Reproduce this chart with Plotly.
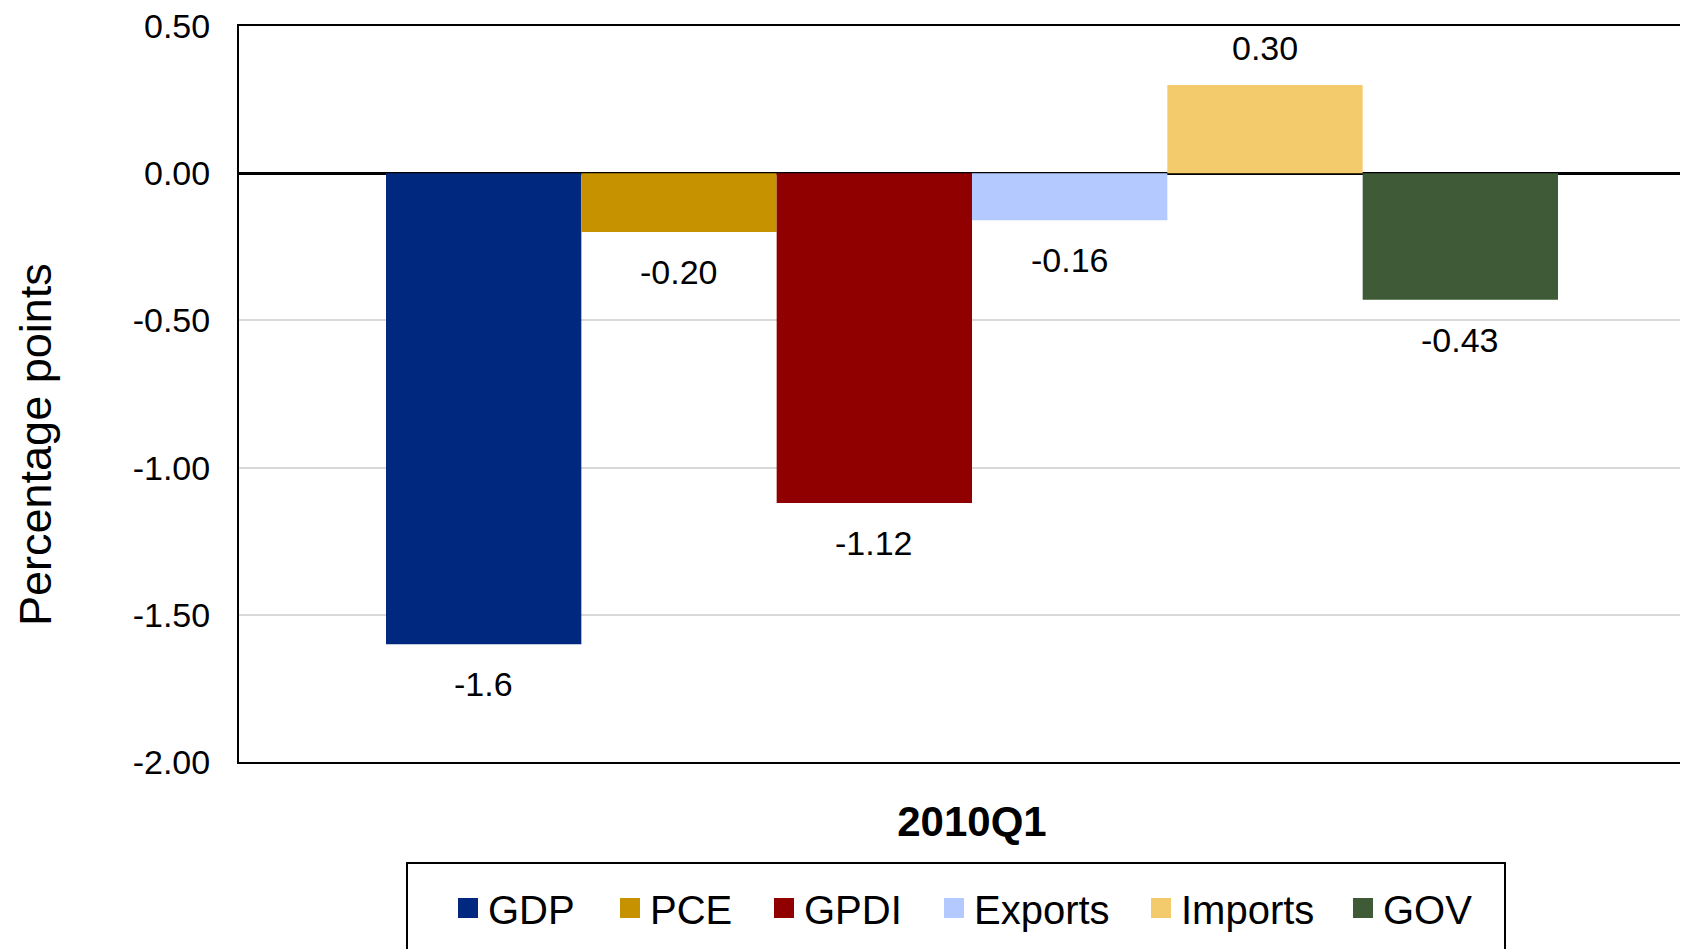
import plotly.graph_objects as go

# ---------------- data ----------------
quarter = "2010Q1"
series = ["GDP", "PCE", "GPDI", "Exports", "Imports", "GOV"]
values = [-1.6, -0.20, -1.12, -0.16, 0.30, -0.43]
label_decimals = [1, 2, 2, 2, 2, 2]
y_ticks = [0.5, 0.0, -0.5, -1.0, -1.5, -2.0]
y_tick_labels = ["0.50", "0.00", "-0.50", "-1.00", "-1.50", "-2.00"]

# ---------------- style ----------------
colors = ["#00287F", "#C79200", "#900000", "#B3C9FF", "#F4CB6C", "#3E5A36"]
legend_widths = [117, 109, 125, 162, 157, 90]

# the page body adds an 8px margin; work in page pixels and shift by it
OFF = 8
W, H = 1688 - OFF, 949 - OFF
PL, PR, PT, PB = 239 - OFF, 1688 - OFF, 26 - OFF, 762 - OFF   # plot area in figure pixels
PW, PH = PR - PL, PB - PT
GROUP_CENTER_PX = 972 - OFF
GROUP_WIDTH_PX = 1172

FONT = "Liberation Sans, Arial, sans-serif"

x_lo = -(GROUP_CENTER_PX - PL) / PW
x_range = [x_lo, x_lo + 1.0]
bargap = 1 - GROUP_WIDTH_PX / PW
bar_px = GROUP_WIDTH_PX / len(series)


def px_x(p):  # page pixel -> paper x
    return (p - OFF - PL) / PW


def px_y(p):  # page pixel -> paper y
    return (PB - (p - OFF)) / PH


fig = go.Figure()
for name, v, c in zip(series, values, colors):
    fig.add_trace(go.Bar(x=[quarter], y=[v], name=name, marker=dict(color=c, line=dict(width=0)),
                         showlegend=False, hoverinfo="y"))

# legend-only entries with larger square swatches
for name, c, lw in zip(series, colors, legend_widths):
    fig.add_trace(go.Scatter(x=[None], y=[None], mode="markers", name=name,
                             marker=dict(symbol="square", size=16, color=c, line=dict(color=c, width=4)),
                             legendwidth=lw, showlegend=True))

# value labels
annotations = []
n = len(series)
for i, (v, d) in enumerate(zip(values, label_decimals)):
    annotations.append(dict(
        x=0, y=v, xref="x", yref="y", text=f"{v:.{d}f}", showarrow=False,
        xshift=(i - (n - 1) / 2) * bar_px, yshift=37 if v >= 0 else -40,
        yanchor="middle", xanchor="center",
        font=dict(family=FONT, size=34, color="black")))

# y-axis title
annotations.append(dict(
    x=px_x(35), y=px_y(445), xref="paper", yref="paper",
    text="Percentage points", textangle=-90, showarrow=False,
    xanchor="center", yanchor="middle", borderpad=0,
    font=dict(family=FONT, size=45, color="black")))

fig.update_layout(
    width=W, height=H,
    margin=dict(l=PL, r=W - PR, t=PT, b=H - PB, pad=0, autoexpand=False),
    paper_bgcolor="white", plot_bgcolor="white",
    barmode="group", bargap=bargap, bargroupgap=0,
    showlegend=True,
    legend=dict(orientation="h", x=px_x(448), xanchor="left",
                y=px_y(908), yanchor="middle",
                font=dict(family=FONT, size=40, color="black"),
                bgcolor="rgba(0,0,0,0)", borderwidth=0, itemclick=False),
    annotations=annotations,
    shapes=[dict(type="rect", xref="paper", yref="paper",
                 x0=px_x(407), x1=px_x(1505),
                 y0=px_y(863), y1=px_y(990),
                 line=dict(color="black", width=2), fillcolor="rgba(0,0,0,0)", layer="above")],
)

fig.update_xaxes(type="category", range=x_range, showline=True, linecolor="black", linewidth=2,
                 mirror=True, showgrid=False, ticks="", ticklabelstandoff=22, automargin=False,
                 tickfont=dict(family=FONT, size=42, color="black", weight="bold"))
fig.update_yaxes(range=[-2.0, 0.5], tickvals=y_ticks, ticktext=y_tick_labels,
                 showline=True, linecolor="black", linewidth=2, mirror=False,
                 showgrid=True, gridcolor="#D9D9D9", gridwidth=2,
                 zeroline=True, zerolinecolor="black", zerolinewidth=3,
                 ticks="", ticklabelstandoff=20, automargin=False, ticklabeloverflow="allow",
                 tickfont=dict(family=FONT, size=34, color="black"))

fig.write_html("out.html")
